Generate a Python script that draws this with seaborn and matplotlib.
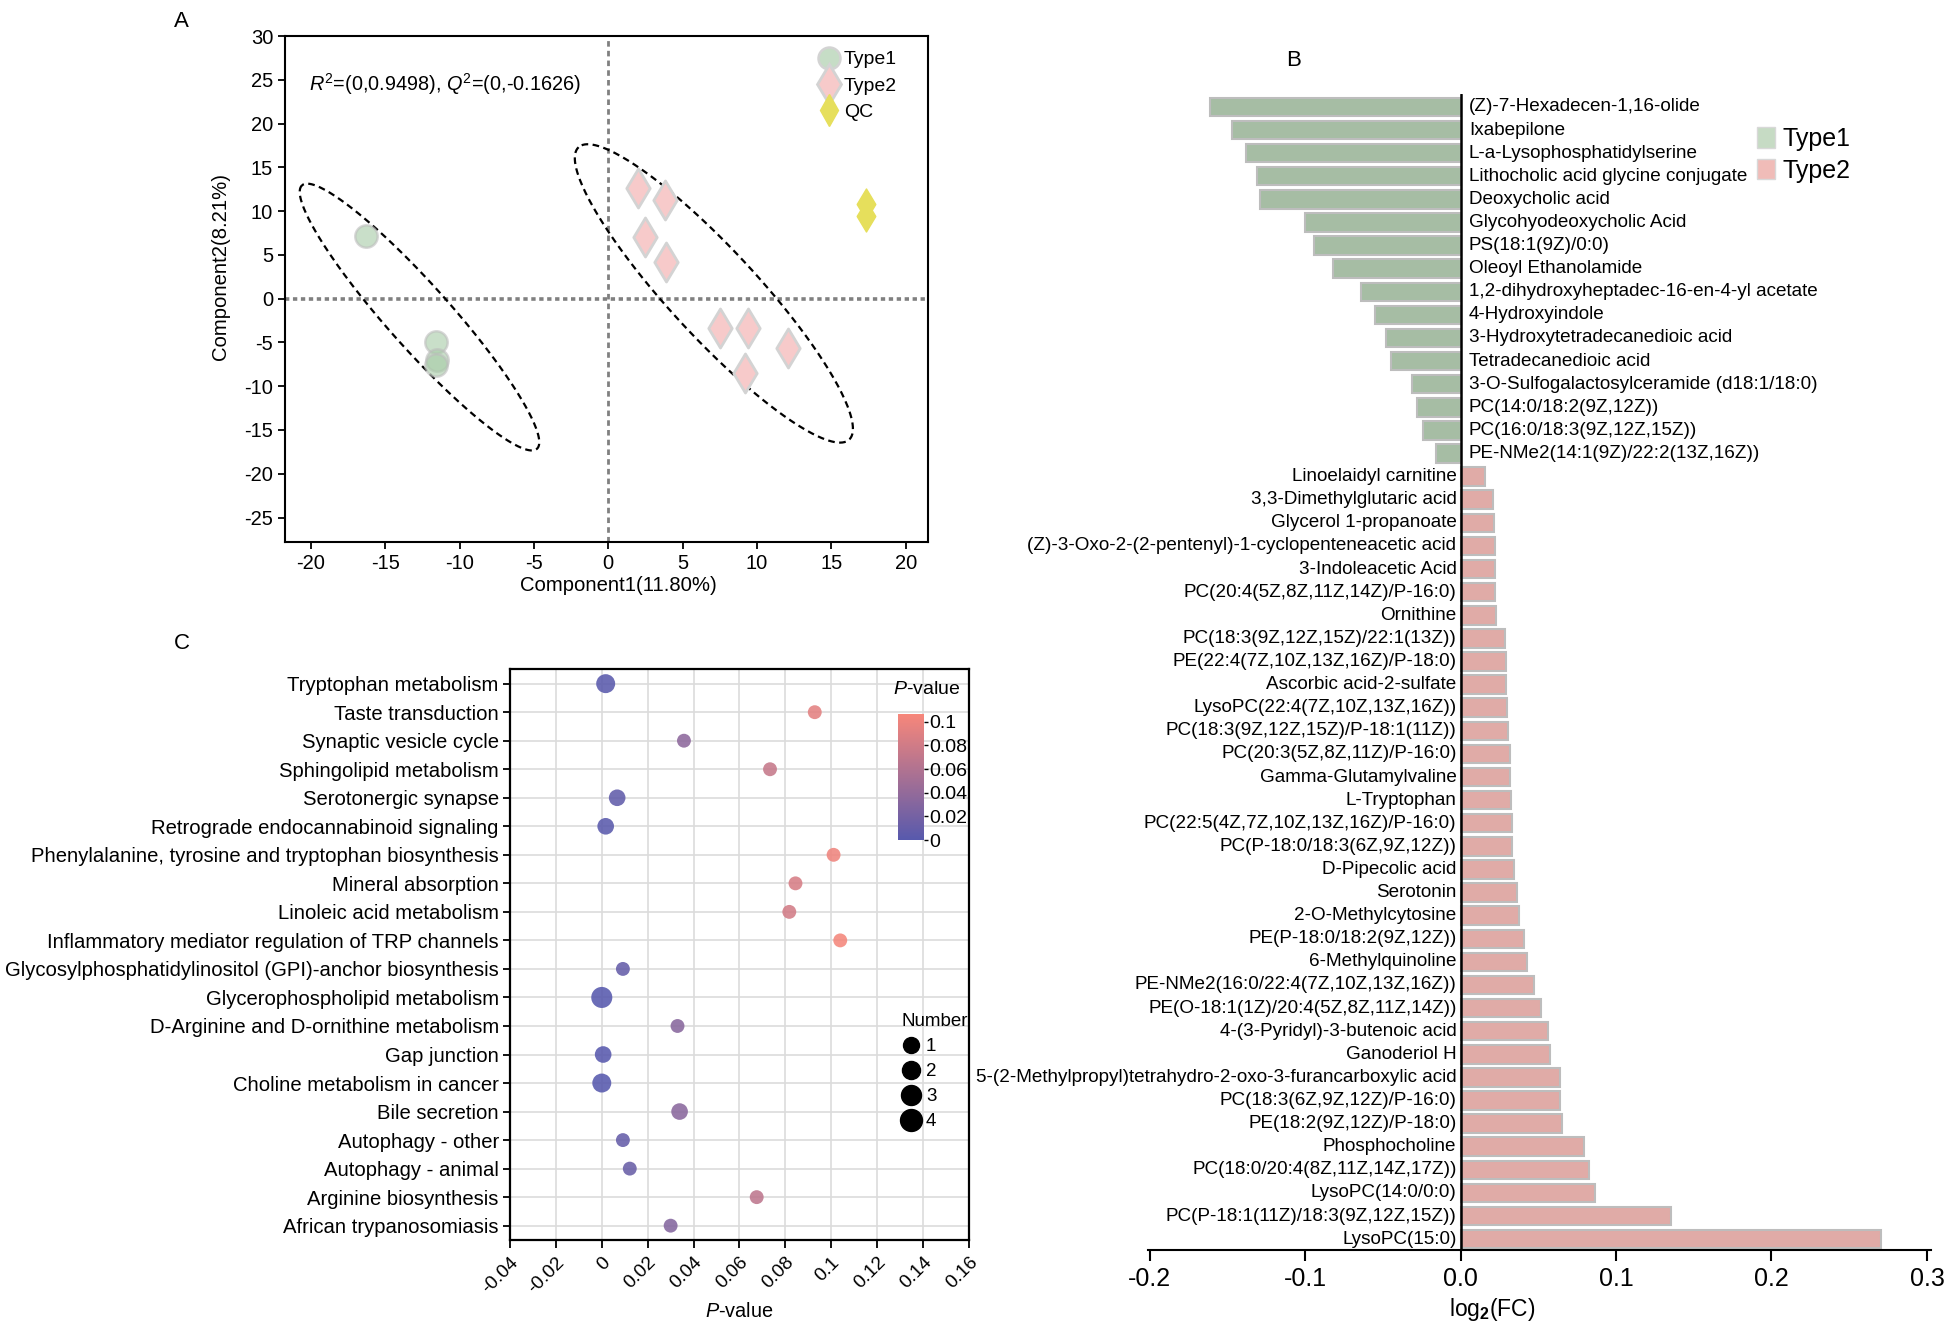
import numpy as np
import pandas as pd
import seaborn as sns
import matplotlib.pyplot as plt
from matplotlib.colors import LinearSegmentedColormap, Normalize
from matplotlib.cm import ScalarMappable
from matplotlib.lines import Line2D
from matplotlib.patches import Patch

# ---------------- panel A : score plot ----------------
type1_x = [-16.3, -11.6, -11.5, -11.6]
type1_y = [7.2, -5.0, -7.0, -7.6]
type2_x = [2.0, 3.8, 2.5, 3.9, 7.5, 9.4, 12.1, 9.2]
type2_y = [12.6, 11.3, 7.0, 4.2, -3.4, -3.4, -5.6, -8.5]
qc_x = [17.3, 17.3]
qc_y = [10.8, 9.5]
# confidence ellipses: centre, end of major axis, minor/major ratio
ellipse_centres = [(-12.7, -2.1), (7.1, 0.6)]
ellipse_tips = [(-20.6, 12.95), (-2.0, 17.3)]
ellipse_ratios = [0.178, 0.22]

# ---------------- panel B : log2 fold change ----------------
type1_names = ["(Z)-7-Hexadecen-1,16-olide", "Ixabepilone", "L-a-Lysophosphatidylserine",
               "Lithocholic acid glycine conjugate", "Deoxycholic acid", "Glycohyodeoxycholic Acid",
               "PS(18:1(9Z)/0:0)", "Oleoyl Ethanolamide", "1,2-dihydroxyheptadec-16-en-4-yl acetate",
               "4-Hydroxyindole", "3-Hydroxytetradecanedioic acid", "Tetradecanedioic acid",
               "3-O-Sulfogalactosylceramide (d18:1/18:0)", "PC(14:0/18:2(9Z,12Z))",
               "PC(16:0/18:3(9Z,12Z,15Z))", "PE-NMe2(14:1(9Z)/22:2(13Z,16Z))"]
type1_fc = [-0.161, -0.147, -0.138, -0.131, -0.129, -0.100, -0.094, -0.082, -0.064,
            -0.055, -0.048, -0.045, -0.031, -0.028, -0.024, -0.016]
type2_names = ["Linoelaidyl carnitine", "3,3-Dimethylglutaric acid", "Glycerol 1-propanoate",
               "(Z)-3-Oxo-2-(2-pentenyl)-1-cyclopenteneacetic acid", "3-Indoleacetic Acid",
               "PC(20:4(5Z,8Z,11Z,14Z)/P-16:0)", "Ornithine", "PC(18:3(9Z,12Z,15Z)/22:1(13Z))",
               "PE(22:4(7Z,10Z,13Z,16Z)/P-18:0)", "Ascorbic acid-2-sulfate",
               "LysoPC(22:4(7Z,10Z,13Z,16Z))", "PC(18:3(9Z,12Z,15Z)/P-18:1(11Z))",
               "PC(20:3(5Z,8Z,11Z)/P-16:0)", "Gamma-Glutamylvaline", "L-Tryptophan",
               "PC(22:5(4Z,7Z,10Z,13Z,16Z)/P-16:0)", "PC(P-18:0/18:3(6Z,9Z,12Z))",
               "D-Pipecolic acid", "Serotonin", "2-O-Methylcytosine", "PE(P-18:0/18:2(9Z,12Z))",
               "6-Methylquinoline", "PE-NMe2(16:0/22:4(7Z,10Z,13Z,16Z))",
               "PE(O-18:1(1Z)/20:4(5Z,8Z,11Z,14Z))", "4-(3-Pyridyl)-3-butenoic acid",
               "Ganoderiol H", "5-(2-Methylpropyl)tetrahydro-2-oxo-3-furancarboxylic acid",
               "PC(18:3(6Z,9Z,12Z)/P-16:0)", "PE(18:2(9Z,12Z)/P-18:0)", "Phosphocholine",
               "PC(18:0/20:4(8Z,11Z,14Z,17Z))", "LysoPC(14:0/0:0)",
               "PC(P-18:1(11Z)/18:3(9Z,12Z,15Z))", "LysoPC(15:0)"]
type2_fc = [0.016, 0.0206, 0.0214, 0.0222, 0.0222, 0.0222, 0.023, 0.0288, 0.0292, 0.0292,
            0.030, 0.0307, 0.0315, 0.0319, 0.0327, 0.0331, 0.0331, 0.0342, 0.0362, 0.0377,
            0.0409, 0.0428, 0.0471, 0.0518, 0.0564, 0.0576, 0.0638, 0.0638, 0.0654, 0.0794,
            0.0829, 0.0868, 0.1354, 0.2704]

# ---------------- panel C : pathway enrichment ----------------
pathways = ["Tryptophan metabolism", "Taste transduction", "Synaptic vesicle cycle",
            "Sphingolipid metabolism", "Serotonergic synapse", "Retrograde endocannabinoid signaling",
            "Phenylalanine, tyrosine and tryptophan biosynthesis", "Mineral absorption",
            "Linoleic acid metabolism", "Inflammatory mediator regulation of TRP channels",
            "Glycosylphosphatidylinositol (GPI)-anchor biosynthesis", "Glycerophospholipid metabolism",
            "D-Arginine and D-ornithine metabolism", "Gap junction", "Choline metabolism in cancer",
            "Bile secretion", "Autophagy - other", "Autophagy - animal", "Arginine biosynthesis",
            "African trypanosomiasis"]
pathway_p = [0.0017, 0.0928, 0.0358, 0.0733, 0.0067, 0.0017, 0.101, 0.0844, 0.0817, 0.1039,
             0.0092, 0.0, 0.033, 0.0006, 0.0, 0.0339, 0.0092, 0.0122, 0.0675, 0.030]
pathway_n = [3, 1, 1, 1, 2, 2, 1, 1, 1, 1, 1, 4, 1, 2, 3, 2, 1, 1, 1, 1]

# ---------------- style ----------------
sns.set_style("ticks", rc={"axes.edgecolor": "black", "text.color": "black",
                           "xtick.color": "black", "ytick.color": "black",
                           "axes.labelcolor": "black"})
plt.rcParams['font.family'] = ['Liberation Sans', 'DejaVu Sans']
plt.rcParams['mathtext.fontset'] = 'custom'
plt.rcParams['mathtext.rm'] = 'Liberation Sans'
plt.rcParams['mathtext.it'] = 'Liberation Sans:italic'
plt.rcParams['mathtext.bf'] = 'Liberation Sans:bold'
plt.rcParams['axes.unicode_minus'] = False
plt.rcParams['font.size'] = 14

fig = plt.figure(figsize=(19.45, 13.25), dpi=100)

# ================= A =================
axA = fig.add_axes([0.1465, 0.5909, 0.3306, 0.3819])
axA.set_xlim(-21.75, 21.5)
axA.set_ylim(-27.8, 30)
axA.axvline(0, color='#808080', ls=(0, (2, 1.5)), lw=2, zorder=1)
axA.axhline(0, color='#808080', ls=(0, (1.2, 1.0)), lw=2.6, zorder=1)

sns.scatterplot(x=type1_x, y=type1_y, ax=axA, marker='o', s=260, color='#a6cba6',
                edgecolor='#bdbdbd', linewidth=1.8, alpha=0.6, zorder=3)
sns.scatterplot(x=type2_x, y=type2_y, ax=axA, marker='d', s=395, color='#f7caca',
                edgecolor='#d3d3d3', linewidth=2, zorder=3)
sns.scatterplot(x=qc_x, y=qc_y, ax=axA, marker='d', s=250, color='#e6df5c',
                edgecolor='#e6df5c', linewidth=1, zorder=3)

t = np.linspace(0, 2 * np.pi, 300)
for centre, tip, ratio in zip(ellipse_centres, ellipse_tips, ellipse_ratios):
    c = axA.transData.transform(centre)
    u = axA.transData.transform(tip) - c
    v = np.array([-u[1], u[0]]) * ratio
    pts = c + np.outer(np.cos(t), u) + np.outer(np.sin(t), v)
    xy = axA.transData.inverted().transform(pts)
    axA.plot(xy[:, 0], xy[:, 1], color='black', lw=1.6, ls=(0, (3, 2)), zorder=2)

axA.text(-20.1, 24.5, r'$R^2$=(0,0.9498), $Q^2$=(0,-0.1626)', fontsize=14.3, va='center')
axA.set_xticks(np.arange(-20, 21, 5))
axA.set_yticks(np.arange(-25, 31, 5))
axA.tick_params(labelsize=14.5, length=5, width=1.3)
for s in axA.spines.values():
    s.set_linewidth(1.5)
axA.set_xlabel('Component1(11.80%)', fontsize=14.6)
axA.set_ylabel('Component2(8.21%)', fontsize=14.6)
axA.xaxis.set_label_coords(0.518, -0.068)
axA.yaxis.set_label_coords(-0.085, 0.545)
hA = [Line2D([], [], ls='', marker='o', ms=15.8, mfc='#c6ddc6', mec='#d3d3d3', mew=1.8),
      Line2D([], [], ls='', marker='d', ms=19.9, mfc='#f7caca', mec='#d3d3d3', mew=2),
      Line2D([], [], ls='', marker='d', ms=15.8, mfc='#e6df5c', mec='#e6df5c')]
axA.legend(hA, ['Type1', 'Type2', 'QC'], loc='upper left', bbox_to_anchor=(0.815, 0.99),
           frameon=False, fontsize=14, handlelength=1.1, handletextpad=0.2,
           labelspacing=0.45, borderpad=0)

# ================= B =================
axB = fig.add_axes([0.5901, 0.0566, 0.4027, 0.8723])
dfB = pd.DataFrame({'name': type1_names + type2_names,
                    'fc': type1_fc + type2_fc,
                    'group': ['Type1'] * len(type1_names) + ['Type2'] * len(type2_names)})
sns.barplot(data=dfB, x='fc', y='name', hue='group', orient='h', dodge=False,
            palette={'Type1': '#a3c1a0', 'Type2': '#e9a39e'}, width=0.8,
            edgecolor='#bdbdbd', linewidth=1.5, errorbar=None, legend=False, ax=axB)
axB.set_xlim(-0.2012, 0.3026)
axB.set_ylim(len(dfB) - 1 + 0.47, -0.55)
axB.axvline(0, color='black', lw=1.8, zorder=4)
for i, row in dfB.iterrows():
    if row['fc'] < 0:
        axB.annotate(row['name'], xy=(0, i), xytext=(6, 0), textcoords='offset points',
                     ha='left', va='center', fontsize=13.6)
    else:
        axB.annotate(row['name'], xy=(0, i), xytext=(-3, 0), textcoords='offset points',
                     ha='right', va='center', fontsize=13.6)
axB.set_yticks([])
axB.set_ylabel('')
for side in ['left', 'top', 'right']:
    axB.spines[side].set_visible(False)
axB.spines['bottom'].set_linewidth(1.5)
axB.set_xticks([-0.2, -0.1, 0.0, 0.1, 0.2, 0.3])
axB.set_xticklabels(['-0.2', '-0.1', '0.0', '0.1', '0.2', '0.3'])
axB.tick_params(axis='x', labelsize=18, length=8, width=1.5, pad=4)
axB.set_xlabel(r'log$_{\mathbf{2}}$(FC)', fontsize=16.5, labelpad=0)
axB.xaxis.set_label_coords(0.44, -0.0395)
hB = [Patch(facecolor='#c6dbc4', edgecolor='#d8d8d8'),
      Patch(facecolor='#f0bcb8', edgecolor='#d8d8d8')]
fig.legend(hB, ['Type1', 'Type2'], loc='upper left', bbox_to_anchor=(0.897, 0.9135),
           frameon=False, fontsize=18, handlelength=0.7, handleheight=0.9,
           handletextpad=0.3, labelspacing=0.3, borderpad=0)

# ================= C =================
axC = fig.add_axes([0.2622, 0.0642, 0.236, 0.4306])
cmapC = LinearSegmentedColormap.from_list('pv', ['#5759ad', '#f8877a'])
normC = Normalize(0, 0.107)
dfC = pd.DataFrame({'pathway': pathways, 'p': pathway_p, 'n': pathway_n})
sns.scatterplot(data=dfC, x='p', y='pathway', hue='p', size='n', palette=cmapC,
                hue_norm=normC, sizes=(100, 230), size_norm=(1, 4), edgecolor='none',
                alpha=0.88, legend=False, ax=axC, zorder=3)
axC.set_xlim(-0.04, 0.16)
axC.set_ylim(len(pathways) - 0.5, -0.5)
xt = np.round(np.arange(-0.04, 0.161, 0.02), 2)
axC.set_xticks(xt)
axC.set_xticklabels(['0' if abs(v) < 1e-9 else f'{v:g}' for v in xt],
                    rotation=45, ha='right', rotation_mode='anchor')
axC.grid(True, color='#dcdcdc', lw=1.2, zorder=0)
axC.set_axisbelow(True)
for s in axC.spines.values():
    s.set_linewidth(1.6)
axC.tick_params(axis='y', labelsize=14.6, length=5, width=1.3, pad=3)
axC.tick_params(axis='x', labelsize=13.8, length=6, width=1.3, pad=4)
axC.set_ylabel('')
axC.set_xlabel(r'$P$-value', fontsize=14.3, labelpad=4)

cax = fig.add_axes([0.4617, 0.366, 0.0134, 0.0955])
cb = fig.colorbar(ScalarMappable(norm=normC, cmap=cmapC), cax=cax)
cb.outline.set_visible(False)
cb.set_ticks([0, 0.02, 0.04, 0.06, 0.08, 0.1])
cb.set_ticklabels(['0', '0.02', '0.04', '0.06', '0.08', '0.1'])
cax.tick_params(labelsize=14, length=3, width=1, pad=1)
cax.text(-0.2, 1.12, r'$P$-value', transform=cax.transAxes, fontsize=14,
         ha='left', va='bottom')

hC = [Line2D([], [], ls='', marker='o', color='black', ms=m) for m in [11.5, 13, 14.4, 15.8]]
axC.legend(hC, ['1', '2', '3', '4'], title='Number', loc='upper left',
           bbox_to_anchor=(0.4588, 0.2425), bbox_transform=fig.transFigure,
           frameon=False, fontsize=13.5, title_fontsize=13.5, handlelength=1.0,
           handletextpad=0.3, labelspacing=0.42, borderpad=0, alignment='left')

fig.text(0.0895, 0.9917, 'A', fontsize=16, va='top', ha='left')
fig.text(0.661, 0.9623, 'B', fontsize=16, va='top', ha='left')
fig.text(0.0895, 0.5223, 'C', fontsize=16, va='top', ha='left')

fig.savefig('out.png', dpi=100)
